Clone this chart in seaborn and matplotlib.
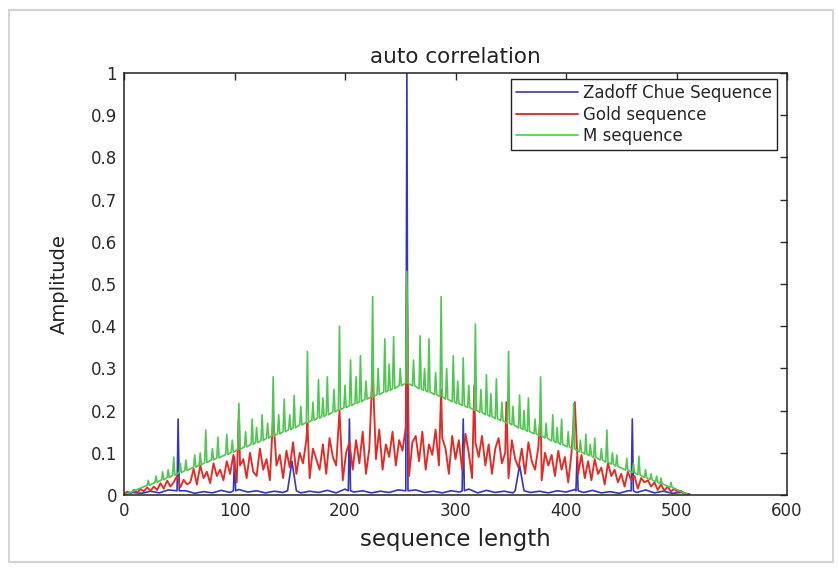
import numpy as np
import matplotlib
matplotlib.use("Agg")
import matplotlib.pyplot as plt
import seaborn as sns
from matplotlib.patches import Rectangle

# data
# ---

# Zadoff Chu: almost flat floor (every 8th sample) plus a few peaks
zc_floor_x = np.arange(0, 513, 8)
zc_floor_y = [
    0.002, 0.006, 0.004, 0.009, 0.005, 0.012, 0.006, 0.010,
    0.004, 0.008, 0.005, 0.011, 0.006, 0.013, 0.007, 0.010,
    0.005, 0.009, 0.006, 0.012, 0.005, 0.009, 0.006, 0.011,
    0.005, 0.014, 0.007, 0.010, 0.005, 0.009, 0.006, 0.012,
    0.008, 0.012, 0.006, 0.009, 0.005, 0.010, 0.007, 0.014,
    0.005, 0.011, 0.006, 0.009, 0.005, 0.012, 0.006, 0.009,
    0.005, 0.010, 0.007, 0.013, 0.006, 0.011, 0.005, 0.008,
    0.004, 0.010, 0.006, 0.012, 0.005, 0.009, 0.004, 0.006,
    0.002,
]
zc_peak_x = [49, 100, 152, 204, 256, 307, 358, 410, 460]
zc_peak_y = [0.18, 0.09, 0.08, 0.18, 1.0, 0.18, 0.07, 0.09, 0.18]
zc_peak_w = [1, 1, 4, 1, 1, 1, 4, 1, 1]
zc_peak_base = [0.01, 0.01, 0.01, 0.01, 0.01, 0.01, 0.01, 0.01, 0.01]

# Gold sequence: noisy band, every 3rd sample, plus isolated peaks
gold_x = np.arange(0, 511, 3)
gold_y = [
    0.002, 0.008, 0.004, 0.012, 0.006, 0.014, 0.009, 0.018, 0.010, 0.020,
    0.012, 0.028, 0.015, 0.034, 0.020, 0.030, 0.045, 0.018, 0.036, 0.025,
    0.030, 0.062, 0.025, 0.070, 0.040, 0.055, 0.028, 0.075, 0.045, 0.060,
    0.035, 0.080, 0.050, 0.095, 0.030, 0.070, 0.085, 0.040, 0.100, 0.055,
    0.045, 0.110, 0.060, 0.085, 0.035, 0.120, 0.070, 0.095, 0.040, 0.105,
    0.065, 0.125, 0.050, 0.100, 0.075, 0.130, 0.040, 0.110, 0.085, 0.060,
    0.120, 0.050, 0.135, 0.090, 0.070, 0.140, 0.035, 0.100, 0.125, 0.060,
    0.130, 0.075, 0.150, 0.050, 0.110, 0.140, 0.085, 0.155, 0.060, 0.120,
    0.090, 0.150, 0.070, 0.130, 0.105, 0.160, 0.045, 0.125, 0.140, 0.080,
    0.150, 0.060, 0.120, 0.095, 0.155, 0.070, 0.135, 0.110, 0.050, 0.140,
    0.085, 0.130, 0.060, 0.145, 0.100, 0.040, 0.125, 0.090, 0.140, 0.070,
    0.120, 0.050, 0.110, 0.135, 0.075, 0.100, 0.040, 0.130, 0.085, 0.065,
    0.110, 0.050, 0.125, 0.080, 0.060, 0.115, 0.035, 0.100, 0.070, 0.095,
    0.045, 0.105, 0.060, 0.090, 0.030, 0.100, 0.070, 0.050, 0.095, 0.040,
    0.080, 0.035, 0.085, 0.050, 0.065, 0.025, 0.075, 0.045, 0.060, 0.030,
    0.050, 0.020, 0.055, 0.035, 0.045, 0.015, 0.040, 0.030, 0.035, 0.020,
    0.030, 0.012, 0.025, 0.010, 0.020, 0.008, 0.015, 0.006, 0.010, 0.004,
    0.002,
]
gold_peak_x = [104, 135, 166, 195, 225, 256, 287, 317, 346, 377, 408]
gold_peak_y = [0.20, 0.19, 0.17, 0.20, 0.30, 0.50, 0.25, 0.26, 0.22, 0.20, 0.22]

# M sequence: triangular floor with spikes (major and minor)
m_end_x = [0, 511]
m_end_y = [0.0, 0.0]
m_peak_x = [22, 35, 45, 56, 64, 74, 85, 93, 104, 116, 125, 135, 145, 154,
            166, 176, 184, 195, 205, 214, 225, 236, 244, 256, 268, 276, 287,
            298, 307, 318, 328, 337, 348, 358, 366, 377, 388, 396, 407, 418,
            426, 437, 446, 455, 466, 477, 486, 495]
m_peak_y = [0.035, 0.055, 0.09, 0.083, 0.095, 0.154, 0.137, 0.144, 0.217,
            0.18, 0.19, 0.28, 0.227, 0.236, 0.34, 0.274, 0.28, 0.40, 0.32,
            0.33, 0.47, 0.37, 0.375, 0.53, 0.377, 0.37, 0.47, 0.33, 0.325,
            0.405, 0.285, 0.275, 0.34, 0.237, 0.23, 0.28, 0.19, 0.18, 0.217,
            0.144, 0.135, 0.154, 0.095, 0.087, 0.092, 0.05, 0.04, 0.03]
m_peak_base = [0.023, 0.036, 0.047, 0.058, 0.066, 0.077, 0.088, 0.096,
               0.108, 0.120, 0.129, 0.140, 0.150, 0.159, 0.172, 0.182,
               0.190, 0.202, 0.212, 0.221, 0.233, 0.244, 0.252, 0.265,
               0.252, 0.244, 0.233, 0.221, 0.212, 0.201, 0.190, 0.181,
               0.170, 0.159, 0.151, 0.140, 0.128, 0.120, 0.109, 0.097,
               0.089, 0.078, 0.068, 0.059, 0.048, 0.036, 0.027, 0.018]
m_minor_x = [29, 40, 51, 69, 80, 98, 110, 120, 130, 140, 150, 160, 171, 180,
             190, 200, 210, 219, 230, 240, 250, 262, 272, 282, 292, 302, 312,
             323, 332, 342, 352, 362, 372, 382, 392, 402, 413, 422, 432, 442,
             461, 472, 482]
m_minor_y = [0.045, 0.06, 0.075, 0.10, 0.11, 0.13, 0.15, 0.16, 0.17, 0.19,
             0.19, 0.21, 0.22, 0.23, 0.25, 0.26, 0.28, 0.27, 0.30, 0.31, 0.30,
             0.32, 0.30, 0.29, 0.30, 0.27, 0.26, 0.25, 0.24, 0.22, 0.21, 0.20,
             0.18, 0.17, 0.16, 0.15, 0.13, 0.12, 0.11, 0.10, 0.075, 0.06,
             0.045]
m_minor_base = [0.030, 0.041, 0.053, 0.071, 0.083, 0.101, 0.114, 0.124,
                0.135, 0.145, 0.155, 0.166, 0.177, 0.186, 0.197, 0.207,
                0.217, 0.227, 0.238, 0.248, 0.259, 0.259, 0.248, 0.238,
                0.227, 0.217, 0.207, 0.196, 0.186, 0.176, 0.166, 0.155,
                0.145, 0.135, 0.124, 0.114, 0.102, 0.093, 0.083, 0.073,
                0.053, 0.041, 0.031]


# build the polylines
# ---

def spikes(px, py, pb, pw):
    xs, ys = [], []
    for x, y, b, w in zip(px, py, pb, pw):
        xs += [x - w, x, x + w]
        ys += [b, y, b]
    return xs, ys


def merged(xs, ys):
    order = np.argsort(np.asarray(xs, dtype=float), kind="stable")
    return np.asarray(xs, dtype=float)[order], np.asarray(ys, dtype=float)[order]


# blue: drop floor samples that fall inside a peak
zc_sx, zc_sy = spikes(zc_peak_x, zc_peak_y, zc_peak_base, zc_peak_w)
keep = [i for i, x in enumerate(zc_floor_x)
        if all(abs(x - p) > w for p, w in zip(zc_peak_x, zc_peak_w))]
zc_x, zc_y = merged([zc_floor_x[i] for i in keep] + zc_sx,
                    [zc_floor_y[i] for i in keep] + zc_sy)

# red: noisy band with peaks inserted
keep = [i for i, x in enumerate(gold_x) if x not in gold_peak_x]
g_x, g_y = merged([gold_x[i] for i in keep] + gold_peak_x,
                  [gold_y[i] for i in keep] + gold_peak_y)

# green: spikes on a triangular floor
ones_major = [1] * len(m_peak_x)
ones_minor = [1] * len(m_minor_x)
mx1, my1 = spikes(m_peak_x, m_peak_y, m_peak_base, ones_major)
mx2, my2 = spikes(m_minor_x, m_minor_y, m_minor_base, ones_minor)
m_x, m_y = merged(m_end_x + mx1 + mx2, m_end_y + my1 + my2)


# plot
# ---

sns.set_style("white")
plt.rcParams["font.family"] = ["DejaVu Sans"]

fig = plt.figure(figsize=(8.39, 5.68), dpi=100)
fig.patch.set_facecolor("white")
fig.patches.append(Rectangle((9 / 839, 6 / 568), 824 / 839, 552 / 568,
                             transform=fig.transFigure, fill=False,
                             edgecolor="#d4d4d4", linewidth=1.5))

ax = fig.add_axes([124 / 839, 73 / 568, 663 / 839, 422 / 568])

sns.lineplot(x=zc_x, y=zc_y, ax=ax, estimator=None, sort=False,
             color="#3535bd", linewidth=1.2, label="Zadoff Chue Sequence")
sns.lineplot(x=g_x, y=g_y, ax=ax, estimator=None, sort=False,
             color="#e52a24", linewidth=1.35, label="Gold sequence")
sns.lineplot(x=m_x, y=m_y, ax=ax, estimator=None, sort=False,
             color="#52c652", linewidth=1.2, label="M sequence")

ax.set_xlim(0, 600)
ax.set_ylim(0, 1)
ax.set_xticks(np.arange(0, 601, 100))
ax.set_yticks(np.arange(0, 1.01, 0.1))
ax.set_yticklabels(["0", "0.1", "0.2", "0.3", "0.4", "0.5", "0.6", "0.7",
                    "0.8", "0.9", "1"])
ax.tick_params(direction="in", length=5, width=1, top=True, right=True,
               labelsize=12, pad=5, colors="#2a2a2a")
for s in ax.spines.values():
    s.set_color("#222222")
    s.set_linewidth(1.1)

ax.set_title("auto correlation", fontsize=15.5, color="#222222", pad=7)
ax.set_xlabel("sequence length", fontsize=16.5, color="#222222", labelpad=6)
ax.set_ylabel("Amplitude", fontsize=14, color="#222222", labelpad=16)

leg = ax.legend(loc="upper right", bbox_to_anchor=(0.985, 0.985),
                borderaxespad=0, fancybox=False, edgecolor="#222222",
                fontsize=12, handlelength=3.7, handletextpad=0.3,
                labelspacing=0.2, borderpad=0.3, framealpha=1)
leg.get_frame().set_linewidth(1.0)

plt.savefig("out.png", dpi=100)
plt.close()
